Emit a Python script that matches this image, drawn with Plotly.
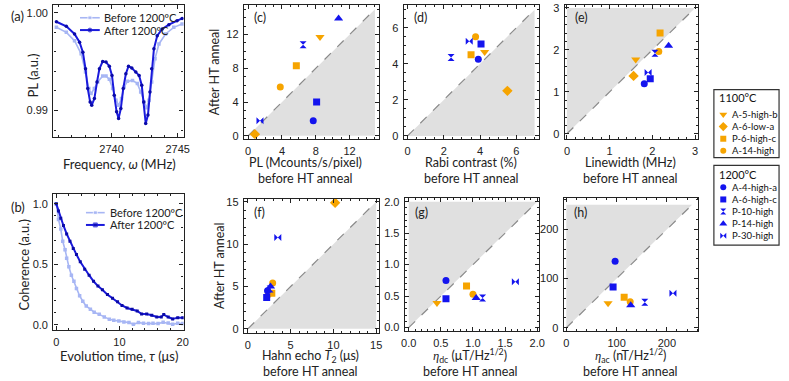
import plotly.graph_objects as go

W, H = 789, 381

# ---------------- (a) ODMR spectra ----------------
freq_before = [2735.83, 2736.58, 2737.2, 2737.7, 2738.03, 2738.28, 2738.45, 2738.7, 2738.95, 2739.33,
               2739.58, 2739.83, 2740.08, 2740.33, 2740.53, 2740.75, 2740.95, 2741.2, 2741.58, 2741.95,
               2742.2, 2742.45, 2742.63, 2742.83, 2743.03, 2743.28, 2743.58, 2744.08, 2744.7, 2745.33]
pl_before = [0.99851, 0.998, 0.99715, 0.9958, 0.99393, 0.99224, 0.99173, 0.99224, 0.99292, 0.99353,
             0.99353, 0.99319, 0.99224, 0.99105, 0.99054, 0.99122, 0.99241, 0.99298, 0.99308, 0.99275,
             0.9919, 0.99088, 0.99027, 0.99105, 0.99292, 0.99529, 0.99681, 0.99783, 0.99851, 0.99885]
freq_after = [2735.83, 2736.58, 2737.2, 2737.58, 2737.83, 2738.03, 2738.2, 2738.38, 2738.5, 2738.7,
              2738.9, 2739.08, 2739.33, 2739.58, 2739.83, 2740.03, 2740.2, 2740.38, 2740.53, 2740.7,
              2740.88, 2741.08, 2741.28, 2741.53, 2741.83, 2742.08, 2742.28, 2742.43, 2742.58, 2742.75,
              2742.9, 2743.03, 2743.2, 2743.45, 2743.83, 2744.33, 2744.95, 2745.33]
pl_after = [0.99908, 0.99861, 0.99783, 0.99698, 0.99597, 0.99427, 0.99224, 0.99088, 0.99054, 0.99122,
            0.99292, 0.99427, 0.99502, 0.99495, 0.99454, 0.99359, 0.99156, 0.98986, 0.98919, 0.9902,
            0.99224, 0.99376, 0.99454, 0.99434, 0.99393, 0.99359, 0.99258, 0.99088, 0.98868, 0.98953,
            0.9919, 0.99427, 0.99631, 0.99766, 0.99834, 0.99878, 0.99919, 0.99942]

# ---------------- (b) Hahn echo coherence ----------------
tau_before = [0, 0.36, 0.72, 1.03, 1.4, 1.65, 2.0, 2.4, 2.8, 3.2, 3.7, 4.2, 4.75, 5.4, 6.0, 6.8, 7.6, 8.4,
              9.1, 9.9, 10.7, 11.5, 12.2, 13.0, 13.8, 14.6, 15.3, 16.1, 16.9, 17.7, 18.4, 19.2, 20.0]
coh_before = [1.0, 0.87, 0.79, 0.69, 0.62, 0.55, 0.48, 0.41, 0.36, 0.30, 0.24, 0.195, 0.155, 0.13, 0.105,
              0.087, 0.065, 0.046, 0.038, 0.032, 0.024, 0.019, 0.005, 0.019, 0.014, 0.011, 0.014, 0.011,
              0.022, 0.016, 0.005, 0.014, 0.011]
tau_after = [0, 0.36, 0.72, 1.14, 1.65, 2.17, 2.69, 3.2, 3.8, 4.5, 5.2, 5.9, 6.6, 7.3, 8.1, 8.9, 9.7, 10.4,
             11.2, 12.0, 12.8, 13.5, 14.3, 15.1, 15.9, 16.6, 17.0, 17.7, 18.4, 19.2, 20.0]
coh_after = [1.0, 0.94, 0.88, 0.82, 0.75, 0.69, 0.63, 0.58, 0.52, 0.46, 0.41, 0.36, 0.32, 0.29, 0.25, 0.22,
             0.19, 0.16, 0.14, 0.13, 0.115, 0.09, 0.09, 0.08, 0.065, 0.065, 0.085, 0.065, 0.049, 0.06, 0.06]

# ---------------- (c)-(h) samples ----------------
samples = ["A-5-high-b", "A-6-low-a", "P-6-high-c", "A-14-high",
           "A-4-high-a", "A-6-high-c", "P-10-high", "P-14-high", "P-30-high"]
sample_group = ["1100°C"] * 4 + ["1200°C"] * 5
sample_symbols = ["triangle-down", "diamond", "square", "circle",
                  "circle", "square", "hourglass", "triangle-up", "bowtie"]

pl_before_ht = [8.5, 0.8, 5.7, 3.8, 7.7, 8.1, 6.5, 10.7, 1.4]
pl_after_ht = [11.7, 0.2, 8.3, 5.8, 1.8, 4.0, 10.8, 13.9, 1.8]
rabi_before_ht = [4.25, 5.5, 3.5, 3.75, 3.9, 4.05, 2.4, None, 3.4]
rabi_after_ht = [4.65, 2.5, 4.5, 5.5, 4.25, 5.1, 4.35, None, 5.25]
lw_before_ht = [1.61, 1.56, 2.18, 2.15, 1.81, 1.95, 2.06, 2.38, 1.9]
lw_after_ht = [1.77, 1.38, 2.4, 1.96, 1.19, 1.31, 1.92, 2.1, 1.46]
t2_before_ht = [2.5, 10.2, 2.8, 2.9, 2.3, 2.2, 2.6, 2.65, 3.5]
t2_after_ht = [4.0, 14.9, 4.2, 5.4, 4.5, 3.7, 4.7, 5.0, 10.8]
etadc_before_ht = [0.44, None, 0.9, 1.0, 0.58, 0.58, 1.15, 1.05, 1.66]
etadc_after_ht = [0.39, None, 0.66, 0.53, 0.75, 0.46, 0.47, 0.47, 0.73]
etaac_before_ht = [83, None, 115, 127, 97, 93, 156, 128, 212]
etaac_after_ht = [50, None, 62, 53, 135, 83, 52, 46, 70]

ORANGE = "#f6a400"
BLUE = "#1414ee"
DARK = "#1a1adc"
LIGHT = "#a7b6f4"
GREY_FILL = "#e0e0e0"
TICKFONT = dict(family="Liberation Sans, Arial, sans-serif", size=11, color="#222")
TXT = "Lato, sans-serif"
ETA = "<i><span style='font-family:Liberation Serif'>η</span></i>"

def color_of(g):
    return ORANGE if g == "1100°C" else BLUE

def size_of(sym):
    return {"circle": 7, "square": 7, "diamond": 8, "triangle-down": 8, "triangle-up": 8,
            "hourglass": 7, "bowtie": 7}[sym]

fig = go.Figure()

# panel boxes in pixels: (L, R, T, B)
boxes = {
    1: (50, 182, 2, 136),
    2: (50, 182, 194, 332),
    3: (243, 380, 2, 138),
    4: (405, 542, 2, 138),
    5: (568, 703, 2, 138),
    6: (243, 380, 199, 335),
    7: (406, 542, 198, 333),
    8: (567, 703, 198, 333),
}
ranges = {
    1: ([2735.6, 2745.45], [0.9873, 1.0008]),
    2: ([-0.45, 20.15], [-0.04, 1.08]),
    3: ([-0.5, 15.5], [-0.35, 15.5]),
    4: ([-0.2, 7.25], [-0.16, 7.26]),
    5: ([-0.05, 3.07], [-0.12, 3.07]),
    6: ([-0.46, 15.35], [-0.46, 15.35]),
    7: ([-0.06, 2.03], [-0.05, 2.06]),
    8: ([-5, 262], [-6, 264]),
}
ticks = {  # (x dtick, x minor, y dtick, y minor, x tick0, xfmt, yfmt)
    1: (5, 1, 0.01, 0.002, 2740, "d", ".2f"),
    2: (10, 2, 0.5, 0.1, 0, "d", ".1f"),
    3: (4, 1, 4, 1, 0, "d", "d"),
    4: (2, 0.5, 2, 0.5, 0, "d", "d"),
    5: (1, 0.2, 1, 0.2, 0, "d", "d"),
    6: (5, 1, 5, 1, 0, "d", "d"),
    7: (0.5, 0.1, 0.5, 0.1, 0, ".1f", ".1f"),
    8: (100, 20, 100, 20, 0, "d", "d"),
}

layout_axes = {}
for i, (L, R, T, B) in boxes.items():
    xr, yr = ranges[i]
    dx, mx, dy, my, x0, xf, yf = ticks[i]
    common = dict(showline=True, linecolor="#222", linewidth=1.4, mirror="ticks",
                  ticks="inside", ticklen=4, tickwidth=1, tickcolor="#222",
                  showgrid=False, zeroline=False, tickfont=TICKFONT, ticklabelstandoff=2)
    xn = "xaxis" if i == 1 else f"xaxis{i}"
    yn = "yaxis" if i == 1 else f"yaxis{i}"
    layout_axes[xn] = dict(domain=[L / W, R / W], range=xr, anchor=f"y{'' if i == 1 else i}",
                           dtick=dx, tick0=x0, tickformat=xf,
                           minor=dict(dtick=mx, ticks="inside", ticklen=2, tickcolor="#222", tick0=x0),
                           **common)
    layout_axes[yn] = dict(domain=[1 - B / H, 1 - T / H], range=yr, anchor=f"x{'' if i == 1 else i}",
                           dtick=dy, tick0=0, tickformat=yf,
                           minor=dict(dtick=my, ticks="inside", ticklen=2, tickcolor="#222"),
                           **common)
layout_axes["xaxis"]["tickvals"] = [2740, 2745]
layout_axes["xaxis"]["minor"] = dict(tickvals=[2736, 2737, 2738, 2739, 2741, 2742, 2743, 2744, 2745],
                                     ticks="inside", ticklen=2, tickcolor="#222")
layout_axes["yaxis"]["tickvals"] = [0.99, 1.00]

# overlay pixel axis for legends/labels
layout_axes["xaxis9"] = dict(domain=[0, 1], range=[0, W], visible=False, anchor="y9")
layout_axes["yaxis9"] = dict(domain=[0, 1], range=[H, 0], visible=False, anchor="x9")

# (a)
fig.add_trace(go.Scatter(x=freq_before, y=pl_before, mode="lines+markers", xaxis="x", yaxis="y",
                         line=dict(color=LIGHT, width=1.6),
                         marker=dict(symbol="square", size=3.5, color=LIGHT), showlegend=False))
fig.add_trace(go.Scatter(x=freq_after, y=pl_after, mode="lines+markers", xaxis="x", yaxis="y",
                         line=dict(color=DARK, width=2),
                         marker=dict(symbol="circle", size=3.5, color="#0a0aa8"), showlegend=False))
# (b)
fig.add_trace(go.Scatter(x=tau_before, y=coh_before, mode="lines+markers", xaxis="x2", yaxis="y2",
                         line=dict(color=LIGHT, width=1.6),
                         marker=dict(symbol="square", size=3.5, color=LIGHT), showlegend=False))
fig.add_trace(go.Scatter(x=tau_after, y=coh_after, mode="lines+markers", xaxis="x2", yaxis="y2",
                         line=dict(color=DARK, width=2),
                         marker=dict(symbol="square", size=3, color="#0a0aa8"), showlegend=False))

panels = [
    (3, pl_before_ht, pl_after_ht, 15, "below"),
    (4, rabi_before_ht, rabi_after_ht, 7, "below"),
    (5, lw_before_ht, lw_after_ht, 3, "above"),
    (6, t2_before_ht, t2_after_ht, 15, "below"),
    (7, etadc_before_ht, etadc_after_ht, 2, "above"),
    (8, etaac_before_ht, etaac_after_ht, 250, "above"),
]
for idx, xb, ya, m, side in panels:
    xa, yax = f"x{idx}", f"y{idx}"
    if side == "below":
        tx, ty = [0, m, m, 0], [0, m, 0, 0]
    else:
        tx, ty = [0, 0, m, 0], [0, m, m, 0]
    fig.add_trace(go.Scatter(x=tx, y=ty, fill="toself", fillcolor=GREY_FILL, mode="none",
                             xaxis=xa, yaxis=yax, showlegend=False, hoverinfo="skip"))
    fig.add_trace(go.Scatter(x=[0, m], y=[0, m], mode="lines", xaxis=xa, yaxis=yax,
                             line=dict(color="#8a8a8a", width=1.2, dash="dash"), showlegend=False))
    for s, g, sym, xv, yv in zip(samples, sample_group, sample_symbols, xb, ya):
        if xv is None or yv is None:
            continue
        fig.add_trace(go.Scatter(x=[xv], y=[yv], mode="markers", xaxis=xa, yaxis=yax, name=s,
                                 marker=dict(symbol=sym, size=size_of(sym), color=color_of(g),
                                             line=dict(width=0)),
                                 showlegend=False))

# sample legends (drawn on pixel overlay)
shapes = []
annotations = []
leg_specs = [("1100°C", 719, 785, 88, 157, 96.5, 113.3), ("1200°C", 719, 785, 165, 246, 174.5, 187.3)]
for title, lx0, lx1, ly0, ly1, ty, row0 in leg_specs:
    shapes.append(dict(type="rect", xref="x9", yref="y9", x0=lx0, x1=lx1, y0=ly0, y1=ly1,
                       line=dict(color="#333", width=1.2), fillcolor="rgba(0,0,0,0)"))
    annotations.append(dict(text=title, x=lx0 + 3, y=ty, xref="x9", yref="y9", xanchor="left",
                            yanchor="middle", showarrow=False,
                            font=dict(family=TXT, size=11, color="#111")))
    k = 0
    for s, g, sym in zip(samples, sample_group, sample_symbols):
        if g != title:
            continue
        yy = row0 + k * 12.3
        fig.add_trace(go.Scatter(x=[728.5], y=[yy], mode="markers", xaxis="x9", yaxis="y9",
                                 marker=dict(symbol=sym, size=size_of(sym) - 1, color=color_of(g)),
                                 showlegend=False, hoverinfo="skip"))
        annotations.append(dict(text=s, x=735, y=yy, xref="x9", yref="y9", xanchor="left",
                                yanchor="middle", showarrow=False,
                                font=dict(family=TXT, size=9.5, color="#111")))
        k += 1

# inline legends for (a) and (b)
for (ya0, lx0, lx1, tx, mk_after) in [(15, 77, 97, 99, "circle"), (213, 83, 102, 105, "square")]:
    for j, (lab, col, mcol, sym, wdt) in enumerate([
            ("Before 1200ºC", LIGHT, LIGHT, "square", 1.6),
            ("After 1200ºC", DARK, "#0a0aa8", mk_after, 2)]):
        yy = ya0 + j * 12.5
        fig.add_trace(go.Scatter(x=[lx0, (lx0 + lx1) / 2, lx1], y=[yy, yy, yy], mode="lines+markers",
                                 xaxis="x9", yaxis="y9", line=dict(color=col, width=wdt),
                                 marker=dict(symbol=sym, size=[0, 4, 0], color=mcol),
                                 showlegend=False, hoverinfo="skip"))
        annotations.append(dict(text=lab, x=tx, y=yy, xref="x9", yref="y9", xanchor="left",
                                yanchor="middle", showarrow=False,
                                font=dict(family=TXT, size=11, color="#222")))

def ann(text, x, y, size=13, angle=0, anchor="center"):
    annotations.append(dict(text=text, x=x, y=y, xref="x9", yref="y9", xanchor=anchor,
                            yanchor="middle", showarrow=False, textangle=angle,
                            font=dict(family=TXT, size=size, color="#222")))

# panel labels
ann("(a)", 5, 13, 13, anchor="left")
ann("(b)", 5, 207, 13, anchor="left")
ann("(c)", 251, 15, 12.5, anchor="left")
ann("(d)", 413, 15, 12.5, anchor="left")
ann("(e)", 576, 15, 12.5, anchor="left")
ann("(f)", 251, 213, 12.5, anchor="left")
ann("(g)", 414, 213, 12.5, anchor="left")
ann("(h)", 575, 213, 12.5, anchor="left")

# axis titles
ann("Frequency, <i>ω</i> (MHz)", 117, 164, 13)
ann("PL (a.u.)", 29, 74, 13, angle=-90)
ann("Evolution time, <i>τ</i> (μs)", 116, 359, 13)
ann("Coherence (a.u.)", 20, 266, 13, angle=-90)
ann("After HT anneal", 214, 70, 12.5, angle=-90)
ann("After HT anneal", 219, 267, 12.5, angle=-90)
ann("PL (Mcounts/s/pixel)", 305, 162.5, 12.5)
ann("before HT anneal", 305, 178, 12.5)
ann("Rabi contrast (%)", 473, 162.5, 12.5)
ann("before HT anneal", 473, 178, 12.5)
ann("Linewidth (MHz)", 635, 162.5, 12.5)
ann("before HT anneal", 635, 178, 12.5)
ann("Hahn echo <i>T</i><sub>2</sub> (μs)", 310, 359, 12.5)
ann("before HT anneal", 310, 374, 12.5)
ann(ETA + "<sub>dc</sub> (μT/Hz<sup>1/2</sup>)", 472, 358, 12.5)
ann("before HT anneal", 472, 374, 12.5)
ann(ETA + "<sub>ac</sub> (nT/Hz<sup>1/2</sup>)", 635, 358, 12.5)
ann("before HT anneal", 635, 374, 12.5)

fig.update_layout(
    width=W, height=H, margin=dict(l=0, r=0, t=0, b=0),
    paper_bgcolor="white", plot_bgcolor="rgba(0,0,0,0)",
    showlegend=False, shapes=shapes, annotations=annotations,
    **layout_axes,
)
fig.write_html("out.html", config={"displayModeBar": False},
               post_script="document.body.style.margin='0';document.body.style.overflow='hidden';")
